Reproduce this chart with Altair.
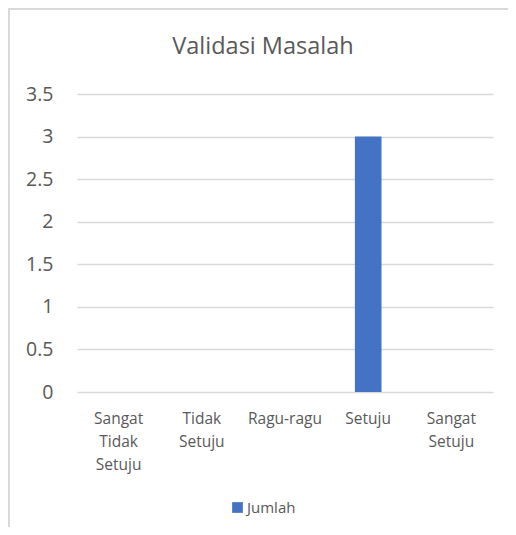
import altair as alt
import pandas as pd

categories = ["Sangat Tidak Setuju", "Tidak Setuju", "Ragu-ragu", "Setuju", "Sangat Setuju"]
jumlah = [0, 0, 0, 3, 0]
series_name = "Jumlah"
y_ticks = [0, 0.5, 1, 1.5, 2, 2.5, 3, 3.5]

df = pd.DataFrame({"kategori": categories, "nilai": jumlah, "seri": [series_name] * len(categories)})

FONT = "Open Sans"
GREY = "#595959"
GRID = "#d9d9d9"

bars = alt.Chart(df).mark_bar(color="#4472C4").encode(
    x=alt.X(
        "kategori:N",
        sort=categories,
        scale=alt.Scale(paddingInner=0.68, paddingOuter=0.34),
        axis=alt.Axis(
            title=None,
            labelAngle=0,
            labelExpr="split(datum.label, ' ')",
            labelFont=FONT,
            labelFontSize=15.5,
            labelLineHeight=23,
            labelColor=GREY,
            labelPadding=19,
            ticks=False,
            domain=False,
            grid=False,
        ),
    ),
    y=alt.Y(
        "nilai:Q",
        scale=alt.Scale(domain=[0, 3.5], nice=False),
        axis=alt.Axis(
            title=None,
            values=y_ticks,
            format="~g",
            labelFont=FONT,
            labelFontSize=19.5,
            labelColor=GREY,
            labelPadding=24,
            ticks=False,
            domain=False,
            grid=True,
            gridColor=GRID,
            gridWidth=1.3,
        ),
    ),
    color=alt.Color(
        "seri:N",
        scale=alt.Scale(domain=[series_name], range=["#4472C4"]),
        legend=alt.Legend(
            title=None,
            orient="none",
            legendX=153,
            legendY=406,
            symbolType="square",
            symbolSize=115,
            symbolStrokeWidth=0,
            labelFont=FONT,
            labelFontSize=15,
            labelColor=GREY,
            labelOffset=2,
        ),
    ),
)

border_top = alt.Chart(df).mark_rule(color=GRID, strokeWidth=2).encode(
    x=alt.value(-69), x2=alt.value(431), y=alt.value(-85)
)
border_left = alt.Chart(df).mark_rule(color=GRID, strokeWidth=2).encode(
    x=alt.value(-68), y=alt.value(-86), y2=alt.value(441)
)

chart = alt.layer(bars, border_top, border_left).properties(
    width=416,
    height=298,
    padding={"left": 69, "top": 86, "right": 15, "bottom": 135},
    autosize=alt.AutoSizeParams(type="none"),
    title=alt.TitleParams(
        "Validasi Masalah",
        font=FONT,
        fontSize=23.5,
        fontWeight="normal",
        color=GREY,
        anchor="middle",
        baseline="alphabetic",
        dx=-22,
        offset=-70,
    ),
).configure_view(stroke=None)

chart.save("out.html", embed_options={"renderer": "svg", "actions": False})
